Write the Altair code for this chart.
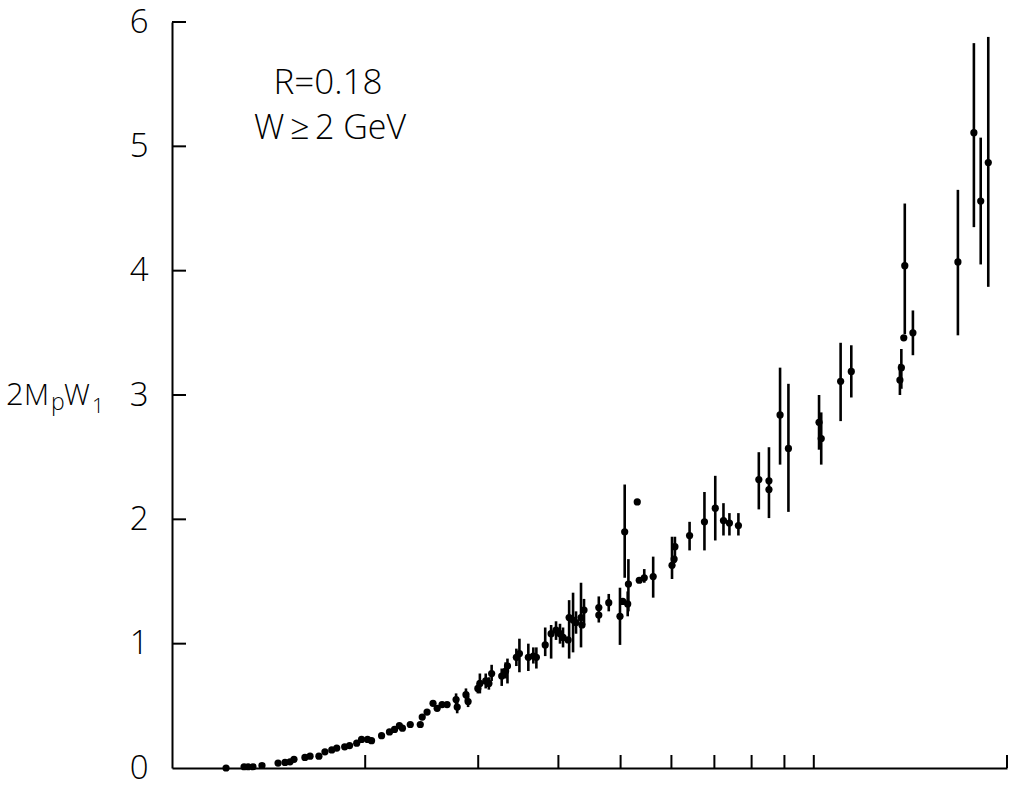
import altair as alt
import pandas as pd

# ---- data ----
x_vals = [1.214, 1.295, 1.314, 1.337, 1.381, 1.463, 1.500, 1.527, 1.549, 1.611,
          1.641, 1.694, 1.731, 1.774, 1.806, 1.858, 1.891, 1.940, 1.974, 2.017,
          2.046, 2.121, 2.182, 2.222, 2.261, 2.286, 2.351, 2.437, 2.454, 2.497,
          2.551, 2.589, 2.635, 2.683, 2.771, 2.782, 2.871, 2.893, 2.996, 3.018,
          3.082, 3.117, 3.148, 3.264, 3.310, 3.332, 3.440, 3.478, 3.591, 3.656,
          3.696, 3.815, 3.897, 3.966, 4.023, 4.067, 4.142, 4.157, 4.216, 4.261,
          4.338, 4.353, 4.385, 4.624, 4.624, 4.792, 4.989, 5.039, 5.129, 5.142,
          5.074, 5.308, 5.346, 5.443, 5.620, 6.013, 6.058, 6.076, 6.404, 6.755,
          7.022, 7.232, 7.388, 7.630, 8.210, 8.514, 8.514, 8.860, 9.130, 10.19,
          10.27, 11.01, 11.44, 13.69, 13.62, 13.81, 13.86, 14.27, 16.77, 17.76,
          18.20, 18.70]
y_vals = [0.00, 0.01, 0.01, 0.01, 0.02, 0.04, 0.045, 0.05, 0.07, 0.085,
          0.095, 0.095, 0.13, 0.145, 0.16, 0.17, 0.18, 0.20, 0.23, 0.23,
          0.22, 0.26, 0.29, 0.31, 0.34, 0.32, 0.35, 0.35, 0.41, 0.45,
          0.52, 0.48, 0.51, 0.51, 0.55, 0.49, 0.59, 0.535, 0.64, 0.68,
          0.70, 0.68, 0.76, 0.74, 0.78, 0.82, 0.89, 0.92, 0.89, 0.90,
          0.89, 0.99, 1.08, 1.11, 1.08, 1.05, 1.03, 1.21, 1.19, 1.17,
          1.21, 1.15, 1.27, 1.29, 1.23, 1.33, 1.22, 1.34, 1.32, 1.48,
          1.90, 2.14, 1.51, 1.53, 1.54, 1.63, 1.68, 1.78, 1.87, 1.98,
          2.09, 1.99, 1.97, 1.95, 2.32, 2.31, 2.24, 2.84, 2.57, 2.78,
          2.65, 3.11, 3.19, 3.22, 3.12, 3.46, 4.04, 3.50, 4.07, 5.11,
          4.56, 4.87]
y_lo = [0.00, 0.01, 0.01, 0.01, 0.02, 0.04, 0.045, 0.05, 0.07, 0.085,
        0.095, 0.095, 0.13, 0.145, 0.16, 0.17, 0.18, 0.20, 0.23, 0.23,
        0.22, 0.26, 0.29, 0.31, 0.34, 0.32, 0.35, 0.35, 0.41, 0.45,
        0.52, 0.48, 0.51, 0.51, 0.50, 0.44, 0.54, 0.49, 0.60, 0.60,
        0.64, 0.63, 0.70, 0.66, 0.72, 0.68, 0.82, 0.77, 0.78, 0.84,
        0.80, 0.90, 0.88, 1.03, 1.00, 0.97, 1.03, 0.88, 0.93, 1.08,
        0.97, 1.15, 1.15, 1.17, 1.23, 1.26, 0.99, 1.34, 1.22, 1.26,
        1.53, 2.14, 1.51, 1.49, 1.37, 1.52, 1.68, 1.65, 1.75, 1.75,
        1.83, 1.87, 1.87, 1.87, 2.08, 2.01, 2.24, 2.44, 2.06, 2.56,
        2.44, 2.79, 2.98, 3.05, 3.00, 3.46, 3.49, 3.32, 3.48, 4.35,
        4.05, 3.87]
y_hi = [0.00, 0.01, 0.01, 0.01, 0.02, 0.04, 0.045, 0.05, 0.07, 0.085,
        0.095, 0.095, 0.13, 0.145, 0.16, 0.17, 0.18, 0.20, 0.23, 0.23,
        0.22, 0.26, 0.29, 0.31, 0.34, 0.32, 0.35, 0.35, 0.41, 0.45,
        0.52, 0.48, 0.51, 0.51, 0.60, 0.53, 0.64, 0.58, 0.68, 0.76,
        0.76, 0.73, 0.83, 0.80, 0.85, 0.88, 0.96, 1.04, 1.00, 0.97,
        0.97, 1.13, 1.15, 1.18, 1.16, 1.13, 1.03, 1.35, 1.41, 1.26,
        1.49, 1.15, 1.36, 1.38, 1.23, 1.40, 1.45, 1.34, 1.42, 1.68,
        2.28, 2.14, 1.51, 1.60, 1.70, 1.86, 1.68, 1.86, 1.98, 2.22,
        2.35, 2.13, 2.05, 2.05, 2.54, 2.58, 2.24, 3.22, 3.09, 3.00,
        2.86, 3.42, 3.40, 3.37, 3.25, 3.46, 4.54, 3.68, 4.65, 5.83,
        5.07, 5.88]

x_tick_values = [2, 3, 4, 5, 6, 7, 8, 9, 10, 20]
y_tick_values = [1, 2, 3, 4, 5, 6]
y_label_values = [0, 1, 2, 3, 4, 5, 6]

W, H = 835, 746
FONT = "Open Sans"

df = pd.DataFrame({"x": x_vals, "y": y_vals, "lo": y_lo, "hi": y_hi})
xs = alt.Scale(type="log", domain=[1, 20], nice=False)
ys = alt.Scale(domain=[0, 6], nice=False, zero=True)

xenc = alt.X("x:Q", scale=xs,
             axis=alt.Axis(labels=False, ticks=False, grid=False, title=None,
                           domainColor="black", domainWidth=2))
yenc = alt.Y("y:Q", scale=ys,
             axis=alt.Axis(values=y_label_values, ticks=False, grid=False, title=None,
                           domainColor="black", domainWidth=2, labelFont=FONT,
                           labelFontSize=33, labelFontWeight=300, labelColor="black",
                           labelPadding=24, format="d"))

err = alt.Chart(df).transform_filter("datum.hi > datum.lo").mark_rule(
    color="black", strokeWidth=2.6).encode(
    x=alt.X("x:Q", scale=xs), y=alt.Y("lo:Q", scale=ys), y2="hi:Q")

pts = alt.Chart(df).mark_circle(color="black", size=52, opacity=1).encode(x=xenc, y=yenc)

xt = alt.Chart(pd.DataFrame({"t": x_tick_values})).mark_rule(
    color="black", strokeWidth=2).encode(
    x=alt.X("t:Q", scale=xs), y=alt.value(H), y2=alt.value(H - 13))

yt = alt.Chart(pd.DataFrame({"t": y_tick_values})).mark_rule(
    color="black", strokeWidth=2).encode(
    y=alt.Y("t:Q", scale=ys), x=alt.value(0), x2=alt.value(14))


def txt(s, x, y, size, align="left"):
    return alt.Chart(pd.DataFrame({"s": [s]})).mark_text(
        font=FONT, fontSize=size, fontWeight=300, color="black",
        align=align, baseline="alphabetic").encode(
        text="s:N", x=alt.value(x), y=alt.value(y))


# annotations (pixel offsets relative to plot origin at (172, 22))
ann = [
    txt("R=0.18", 328 - 172, 94 - 22, 35, "center"),
    txt("W\u2009\u2265\u20092 GeV", 330 - 172, 139 - 22, 34, "center"),
    txt("2", 6 - 172, 405 - 22, 31),
    txt("M", 24 - 172, 405 - 22, 29),
    txt("p", 51 - 172, 410 - 22, 23),
    txt("W", 64 - 172, 405 - 22, 29),
    txt("1", 92 - 172, 413 - 22, 21),
]

chart = alt.layer(pts, err, xt, yt, *ann).properties(
    width=W, height=H,
    autosize=alt.AutoSizeParams(type="none"),
    padding={"left": 172, "top": 22, "right": 2, "bottom": 18},
    background="white",
).configure_view(stroke=None)

chart.save("out.html", embed_options={"renderer": "svg", "actions": False})
